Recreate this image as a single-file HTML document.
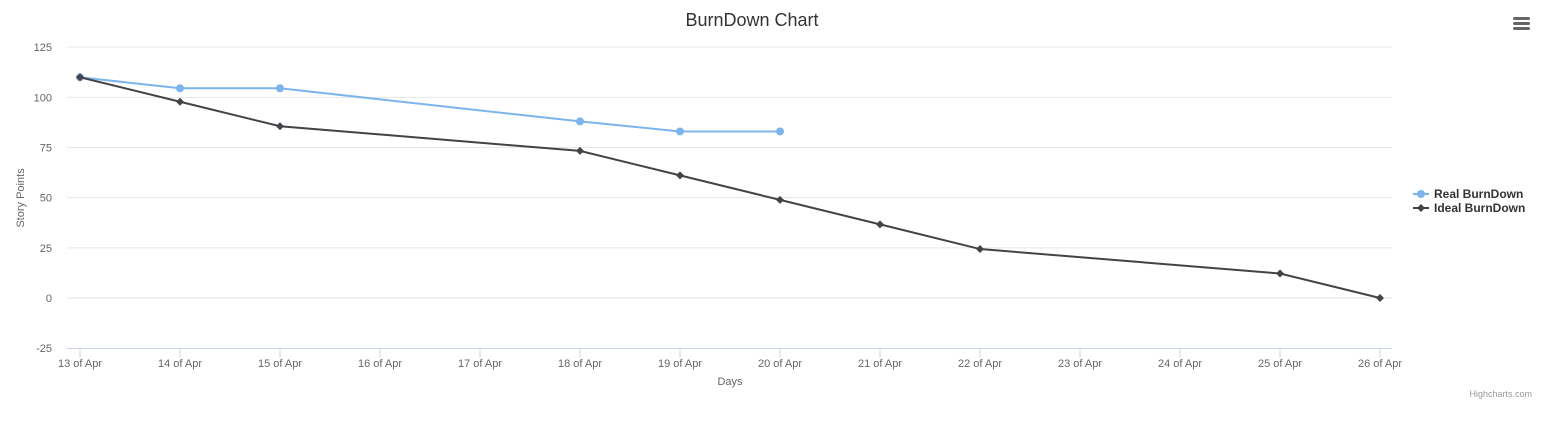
<!DOCTYPE html>
<html><head><meta charset="utf-8"><style>
body{margin:0;background:#fff;font-family:"Liberation Sans",Arial,sans-serif;}
svg{display:block}
</style></head><body>
<svg width="1545" height="434" id="chart" xmlns="http://www.w3.org/2000/svg">
<text x="752" y="26" text-anchor="middle" font-size="18" fill="#333">BurnDown Chart</text>
<g fill="#666">
<rect x="1513" y="17" width="17" height="3" rx="1.5"/><rect x="1513" y="22" width="17" height="3" rx="1.5"/><rect x="1513" y="27" width="17" height="3" rx="1.5"/>
</g>
<g id="grid"></g><g id="xaxis"></g><g id="series"></g>
<text x="24" y="198" transform="rotate(-90 24 198)" text-anchor="middle" font-size="11" fill="#666">Story Points</text>
<text x="730" y="385" text-anchor="middle" font-size="11" fill="#666">Days</text>
<g>
<line x1="1413" y1="194" x2="1429" y2="194" stroke="#7cb5ec" stroke-width="2"/><circle cx="1421" cy="194" r="4" fill="#7cb5ec"/>
<text x="1434" y="198" font-size="12" font-weight="bold" fill="#333">Real BurnDown</text></g>
<g>
<line x1="1413" y1="208" x2="1429" y2="208" stroke="#434348" stroke-width="2"/><path d="M1421 204 L1425 208 L1421 212 L1417 208Z" fill="#434348"/>
<text x="1434" y="212" font-size="12" font-weight="bold" fill="#333">Ideal BurnDown</text></g>
<text x="1532" y="397" text-anchor="end" font-size="9" fill="#999">Highcharts.com</text>
</svg>
<script>
const categories=["13 of Apr","14 of Apr","15 of Apr","16 of Apr","17 of Apr","18 of Apr","19 of Apr","20 of Apr","21 of Apr","22 of Apr","23 of Apr","24 of Apr","25 of Apr","26 of Apr"];
const yTicks=[-25,0,25,50,75,100,125];
const realDays=[0,1,2,5,6,7];
const realValues=[110,104.5,104.5,88,83,83];
const idealDays=[0,1,2,5,6,7,8,9,12,13];
const idealValues=[110,97.8,85.6,73.3,61.1,48.9,36.7,24.4,12.2,0];
const NS="http://www.w3.org/2000/svg";
const X=i=>80+i*100, Y=v=>298-v*(301/150);
function mk(p,t,a){const e=document.createElementNS(NS,t);for(const k in a)e.setAttribute(k,a[k]);p.appendChild(e);return e;}
const g=document.getElementById('grid'),xa=document.getElementById('xaxis'),s=document.getElementById('series');
yTicks.forEach(v=>{
 if(v>-25){const l=mk(g,'line',{x1:67,x2:1392,y1:Y(v),y2:Y(v),stroke:'#e6e6e6'});
 
 }
 const t=mk(g,'text',{x:52,y:Y(v)+4,'text-anchor':'end','font-size':11,fill:'#666'});t.textContent=v;
 
 
});
mk(xa,'line',{x1:67,x2:1392,y1:348.5,y2:348.5,stroke:'#ccd6eb'});
categories.forEach((c,i)=>{
 mk(xa,'line',{x1:X(i),x2:X(i),y1:348,y2:358,stroke:'#ccd6eb'});
 const t=mk(xa,'text',{x:X(i),y:367,'text-anchor':'middle','font-size':11,fill:'#666'});t.textContent=c;
 
 
});
function line(days,vals,color,name,diamond){
 const p=mk(s,'path',{d:days.map((d,i)=>(i?'L':'M')+X(d)+' '+Y(vals[i])).join(' '),fill:'none',stroke:color,'stroke-width':2});
 
 
 days.forEach((d,i)=>{const x=X(d),y=Y(vals[i]);
  const m=diamond?mk(s,'path',{d:`M${x} ${y-4}L${x+4} ${y}L${x} ${y+4}L${x-4} ${y}Z`,fill:color}):mk(s,'circle',{cx:x,cy:y,r:4,fill:color});
  
  });
}
line(realDays,realValues,'#7cb5ec','real-burndown',false);
line(idealDays,idealValues,'#434348','ideal-burndown',true);
</script>
</body></html>
